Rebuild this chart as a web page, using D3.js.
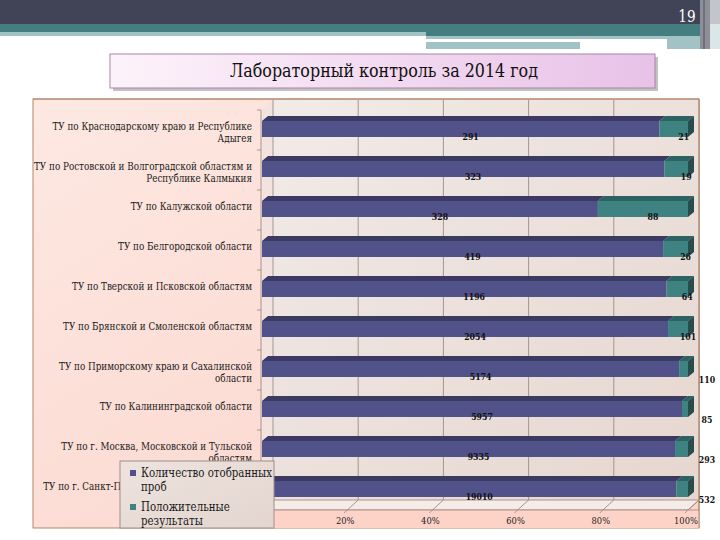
<!DOCTYPE html>
<html><head><meta charset="utf-8">
<script src="https://cdn.jsdelivr.net/npm/d3@7"></script>
<style>html,body{margin:0;padding:0;background:#fff;}svg{display:block;}</style>
</head><body>
<svg id="c" width="720" height="540"></svg>
<script>
const categories = [
  "ТУ по Краснодарскому краю и Республике\nАдыгея",
  "ТУ по Ростовской и Волгоградской областям и\nРеспублике Калмыкия",
  "ТУ по Калужской области",
  "ТУ по Белгородской области",
  "ТУ по Тверской и Псковской областям",
  "ТУ по Брянской и Смоленской областям",
  "ТУ по Приморскому краю и Сахалинской\nобласти",
  "ТУ по Калининградской области",
  "ТУ по г. Москва, Московской и Тульской\nобластям",
  "ТУ по г. Санкт-Петербургу и Ленинградской\nобласти"
];
const sampled  = [291, 323, 328, 419, 1196, 2054, 5174, 5957, 9335, 19010];
const positive = [21, 19, 88, 26, 64, 101, 110, 85, 293, 532];
const seriesNames = ["Количество отобранных\nпроб", "Положительные\nрезультаты"];
const xTicks = [0.2, 0.4, 0.6, 0.8, 1.0];
const xTickLabels = ["20%", "40%", "60%", "80%", "100%"];
const title = "Лабораторный контроль за 2014 год";
const pageNumber = "19";

const SERIF = "DejaVu Serif";

const svg = d3.select("#c");
const defs = svg.append("defs");

function squeeze(sel, k){
  sel.each(function(){
    const w = this.getComputedTextLength();
    d3.select(this).attr("textLength", w*k).attr("lengthAdjust","spacingAndGlyphs");
  });
}

// ---------- slide header ----------
svg.append("rect").attr("x",0).attr("y",0).attr("width",720).attr("height",24).attr("fill","#414356");
svg.append("rect").attr("x",0).attr("y",24).attr("width",720).attr("height",8).attr("fill","#457e80");
svg.append("rect").attr("x",0).attr("y",32).attr("width",426).attr("height",4).attr("fill","#a3c2c5");
svg.append("rect").attr("x",426).attr("y",32).attr("width",294).attr("height",4).attr("fill","#457e80");
svg.append("rect").attr("x",426).attr("y",36).attr("width",284).attr("height",3).attr("fill","#a3c2c5");
svg.append("rect").attr("x",667).attr("y",39).attr("width",43).attr("height",10).attr("fill","#a3c2c5");
svg.append("rect").attr("x",426).attr("y",42).attr("width",154).attr("height",7).attr("fill","#a3c2c5");
svg.append("rect").attr("x",700).attr("y",0).attr("width",10).attr("height",49).attr("fill","#8d8f99");
svg.append("rect").attr("x",703).attr("y",0).attr("width",2).attr("height",49).attr("fill","#6d6f7a");
svg.append("rect").attr("x",710).attr("y",0).attr("width",10).attr("height",24).attr("fill","#c3c4cc");
svg.append("rect").attr("x",710).attr("y",24).attr("width",10).attr("height",25).attr("fill","#dbe6e6");
const pn = svg.append("text").style("font-family",SERIF).attr("x",687).attr("y",22).attr("text-anchor","middle")
  .attr("font-size",17).attr("fill","#fff").text(pageNumber);
squeeze(pn, 0.8);

// ---------- title box ----------
const tg = defs.append("linearGradient").attr("id","tg").attr("x1","0").attr("x2","1");
tg.append("stop").attr("offset","0").attr("stop-color","#fdf3fa");
tg.append("stop").attr("offset","1").attr("stop-color","#e8c2e8");
svg.append("rect").attr("x",113).attr("y",57).attr("width",545).attr("height",34).attr("fill","#9a9a9a").attr("opacity",0.6);
svg.append("rect").attr("x",110).attr("y",54).attr("width",545).attr("height",34)
  .attr("fill","url(#tg)").attr("stroke","#a785a5").attr("stroke-width",1);
const tt = svg.append("text").style("font-family",SERIF).attr("x",384).attr("y",77).attr("text-anchor","middle")
  .attr("font-size",18).attr("fill","#111").text(title);
squeeze(tt, 308/tt.node().getComputedTextLength());

// ---------- chart frame ----------
const bg = defs.append("linearGradient").attr("id","bg").attr("x1","0").attr("y1","0").attr("x2","1").attr("y2","1");
bg.append("stop").attr("offset","0").attr("stop-color","#fde8e2");
bg.append("stop").attr("offset","1").attr("stop-color","#fbd3c9");
svg.append("rect").attr("x",33).attr("y",99).attr("width",666).attr("height",429)
  .attr("fill","url(#bg)").attr("stroke","#b3866a").attr("stroke-width",1);

const x = d3.scaleLinear().domain([0,1]).range([262,688]);
const y = d3.scaleBand().domain(d3.range(categories.length)).range([109,509]).paddingInner(0.6).paddingOuter(0.3);
const wallD = {dx:11, dy:-10};
const barD = {dx:6, dy:-5};
const yTop = 110, yBot = 510;

const wg = defs.append("linearGradient").attr("id","wg").attr("x1","0").attr("y1","0").attr("x2","1").attr("y2","1");
wg.append("stop").attr("offset","0").attr("stop-color","#f1ebe7");
wg.append("stop").attr("offset","1").attr("stop-color","#e6d6cf");
svg.append("rect").attr("x",x(0)+wallD.dx).attr("y",yTop+wallD.dy)
  .attr("width",x(1)-x(0)).attr("height",yBot-yTop).attr("fill","url(#wg)");
svg.append("polygon").attr("points",[[x(0),yTop],[x(0)+wallD.dx,yTop+wallD.dy],[x(0)+wallD.dx,yBot+wallD.dy],[x(0),yBot]].join(" "))
  .attr("fill","#f3e3de");
svg.append("polygon").attr("points",[[x(0),yBot],[x(0)+wallD.dx,yBot+wallD.dy],[x(1)+wallD.dx,yBot+wallD.dy],[x(1),yBot]].join(" "))
  .attr("fill","#f3ece8").attr("stroke","#9c8378").attr("stroke-width",0.8);
svg.append("rect").attr("x",x(0)).attr("y",yBot).attr("width",x(1)+wallD.dx-x(0)).attr("height",528-yBot).attr("fill","#fdd3c8");
svg.append("line").attr("x1",x(0)).attr("x2",x(1)+wallD.dx).attr("y1",yBot).attr("y2",yBot).attr("stroke","#9c8378").attr("stroke-width",0.8);

const grid = svg.append("g").attr("stroke","#9e8c86").attr("stroke-width",0.9).attr("fill","none");
[0].concat(xTicks).forEach(t => {
  const bx = x(t)+wallD.dx;
  grid.append("line").attr("x1",bx).attr("x2",bx).attr("y1",yTop+wallD.dy).attr("y2",yBot+wallD.dy);
  if (t>0) grid.append("path").attr("d",`M${bx},${yBot+wallD.dy}L${x(t)},${yBot}L${x(t)-3},${yBot+3}`);
});
svg.append("line").attr("x1",33).attr("x2",699).attr("y1",99).attr("y2",99).attr("stroke","#b3866a");
svg.append("line").attr("x1",699).attr("x2",699).attr("y1",99).attr("y2",528).attr("stroke","#b3866a");

const ax = svg.append("g").attr("stroke","#9e8c86").attr("stroke-width",0.9);
ax.append("line").attr("x1",261).attr("x2",261).attr("y1",yTop).attr("y2",yBot);
for (let i=0;i<=categories.length;i++){
  const yy = yTop + i*y.step();
  ax.append("line").attr("x1",257).attr("x2",261).attr("y1",yy).attr("y2",yy);
}

const tickT = svg.append("g").style("font-family",SERIF).selectAll("text").data(xTicks).join("text")
  .attr("x",(d)=>x(d)-2).attr("y",524).attr("text-anchor","middle")
  .attr("font-size",9.5).attr("fill","#222")
  .text((d,i)=>xTickLabels[i]);
squeeze(tickT, 0.88);

const rows = categories.map((c,i)=>({i, a:sampled[i], b:positive[i]}));
const stack = d3.stack().keys(["a","b"]).offset(d3.stackOffsetExpand);
const series = stack(rows);
const colors = [
  {front:"#52528a", top:"#3b3b62", side:"#34345a"},
  {front:"#3f8282", top:"#2d6262", side:"#284b4b"}
];

const barsG = svg.append("g");
series.forEach((s,si)=>{
  s.forEach(d=>{
    const i = d.data.i;
    const x0 = x(d[0]), x1 = x(d[1]);
    const y0 = y(i), h = y.bandwidth();
    const c = colors[si];
    barsG.append("polygon").attr("points",[[x0,y0],[x0+barD.dx,y0+barD.dy],[x1+barD.dx,y0+barD.dy],[x1,y0]].join(" ")).attr("fill",c.top);
    barsG.append("rect").attr("x",x0).attr("y",y0).attr("width",Math.max(0,x1-x0)).attr("height",h).attr("fill",c.front);
    if (si===series.length-1){
      barsG.append("polygon").attr("points",[[x1,y0],[x1+barD.dx,y0+barD.dy],[x1+barD.dx,y0+h+barD.dy],[x1,y0+h]].join(" ")).attr("fill",c.side);
    }
  });
});

const vals = [sampled, positive];
const labG = svg.append("g").style("font-family",SERIF).attr("font-size",10)
  .attr("font-weight","bold").attr("fill","#111").attr("text-anchor","middle");
series.forEach((s,si)=>{
  s.forEach(d=>{
    const i = d.data.i;
    const x0 = x(d[0]), x1 = x(d[1]);
    let cx = (x0+x1)/2 + 10;
    let cy = y(i)+y.bandwidth()+3;
    if (si===1 && x1-x0 < 16){ cx = x(1)+19; cy += 3; }
    labG.append("text").attr("x",cx).attr("y",cy).text(vals[si][i]);
  });
});
squeeze(labG.selectAll("text"), 0.78);

const catG = svg.append("g").style("font-family",SERIF).attr("font-size",11)
  .attr("fill","#1a1a1a").attr("text-anchor","end");
categories.forEach((c,i)=>{
  const cy = y(i)+y.bandwidth()/2;
  c.split("\n").forEach((ln,k)=>{
    catG.append("text").attr("x",252).attr("y",cy+1+k*12).text(ln);
  });
});
const catTexts = catG.selectAll("text");
const widest = d3.max(catTexts.nodes(), n=>n.getComputedTextLength());
squeeze(catTexts, 218/widest);

const lg = defs.append("linearGradient").attr("id","lg").attr("x1","0").attr("y1","0").attr("x2","1").attr("y2","1");
lg.append("stop").attr("offset","0").attr("stop-color","#eee3df");
lg.append("stop").attr("offset","1").attr("stop-color","#e3d5cf");
svg.append("rect").attr("x",120).attr("y",461).attr("width",154).attr("height",67)
  .attr("fill","url(#lg)").attr("stroke","#a08e88").attr("stroke-width",1);
const legY = [473, 507];
const legG = svg.append("g").style("font-family",SERIF).attr("font-size",12).attr("fill","#1a1a1a");
seriesNames.forEach((n,si)=>{
  svg.append("rect").attr("x",130).attr("y",legY[si]-3).attr("width",6).attr("height",6).attr("fill",colors[si].front);
  n.split("\n").forEach((ln,k)=>{
    legG.append("text").attr("x",141).attr("y",legY[si]+4+k*14).text(ln);
  });
});
const legTexts = legG.selectAll("text");
squeeze(legTexts, 131/legTexts.nodes()[0].getComputedTextLength());
</script>
</body></html>
